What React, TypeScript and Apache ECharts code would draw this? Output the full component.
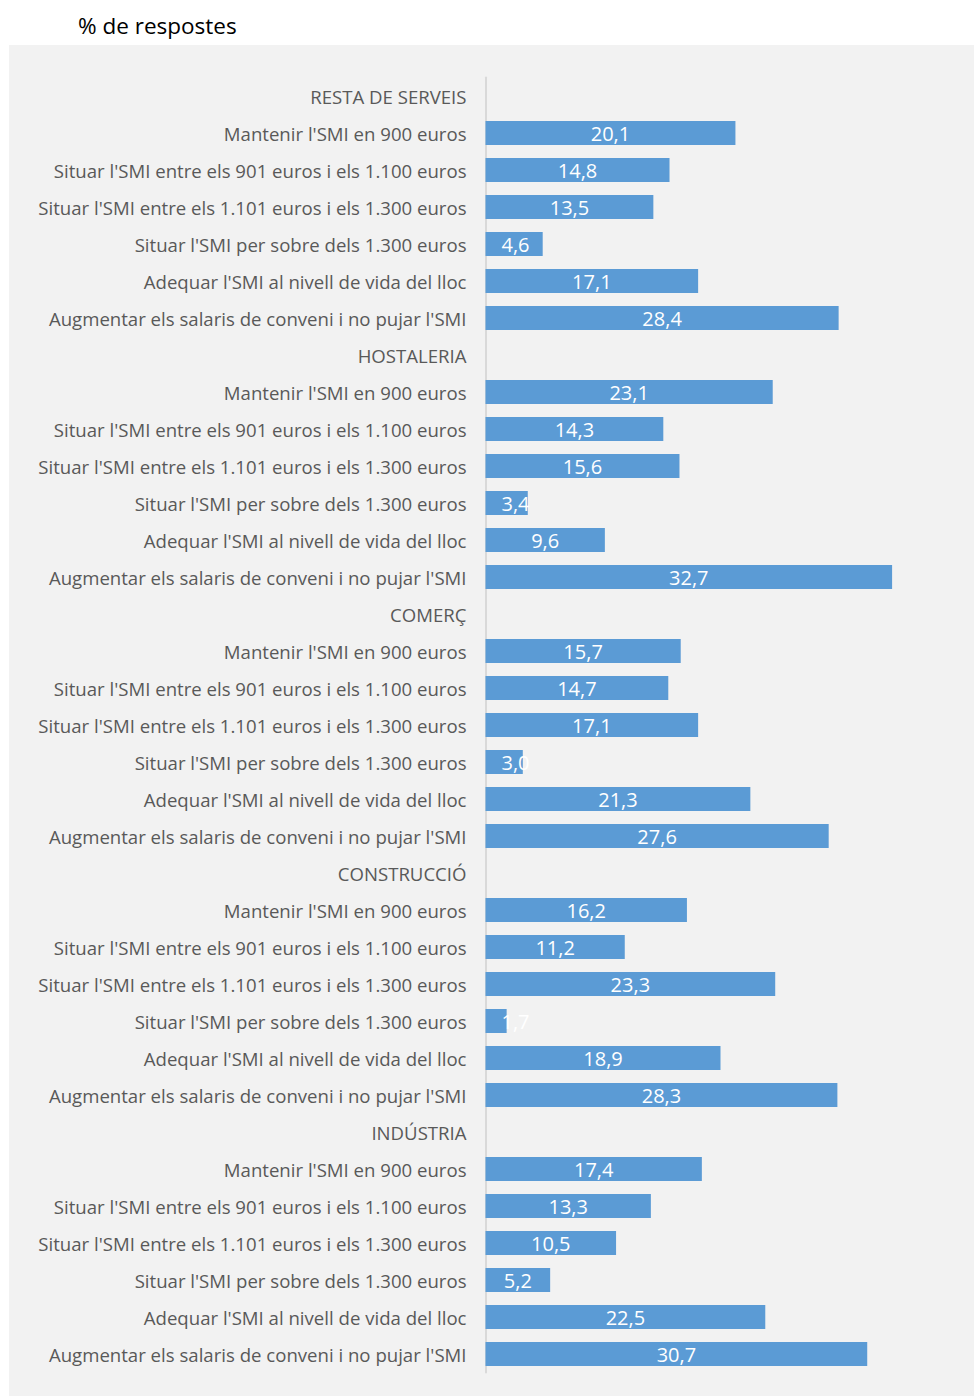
import React, { useEffect, useRef } from "react";
import * as echarts from "echarts";

const sectors = ["RESTA DE SERVEIS", "HOSTALERIA", "COMERÇ", "CONSTRUCCIÓ", "INDÚSTRIA"];
const options = [
  "Mantenir l'SMI en 900 euros",
  "Situar l'SMI entre els 901 euros i els 1.100 euros",
  "Situar l'SMI entre els 1.101 euros i els 1.300 euros",
  "Situar l'SMI per sobre dels 1.300 euros",
  "Adequar l'SMI al nivell de vida del lloc",
  "Augmentar els salaris de conveni i no pujar l'SMI",
];
const restaServeis = [20.1, 14.8, 13.5, 4.6, 17.1, 28.4];
const hostaleria = [23.1, 14.3, 15.6, 3.4, 9.6, 32.7];
const comerc = [15.7, 14.7, 17.1, 3.0, 21.3, 27.6];
const construccio = [16.2, 11.2, 23.3, 1.7, 18.9, 28.3];
const industria = [17.4, 13.3, 10.5, 5.2, 22.5, 30.7];
const sectorValues = [restaServeis, hostaleria, comerc, construccio, industria];
const title = "% de respostes";

export default function App() {
  const ref = useRef<HTMLDivElement>(null);
  useEffect(() => {
    if (!ref.current) return;
    const chart = echarts.init(ref.current, null, { renderer: "svg" });
    const cats: string[] = [];
    const data: any[] = [];
    const gridLeft = 485.5;
    const gridWidth = 974 - 16 - gridLeft;
    const xMax = 38;
    const pxPerUnit = gridWidth / xMax;
    sectors.forEach((s, i) => {
      cats.push(s);
      data.push({ value: null });
      options.forEach((o, j) => {
        cats.push(o);
        const v = sectorValues[i][j];
        const w = v * pxPerUnit;
        const item: any = { value: v };
        if (w / 2 < 30) {
          item.label = { position: [30, "50%"], align: "center", verticalAlign: "middle" };
        }
        data.push(item);
      });
    });
    const font = "'Open Sans', 'Noto Sans', sans-serif";
    chart.setOption({
      animation: false,
      graphic: [
        { type: "rect", shape: { x: 9, y: 45, width: 965, height: 1351 }, style: { fill: "#F2F2F2" }, z: -10, silent: true },
        {
          type: "text",
          x: 78,
          y: 25,
          style: { text: title, fill: "#000000", font: `22.5px ${font}`, textVerticalAlign: "middle", verticalAlign: "middle" },
        },
      ],
      grid: { left: gridLeft, width: gridWidth, top: 77.5, height: 1295, containLabel: false },
      xAxis: {
        type: "value",
        min: 0,
        max: xMax,
        show: false,
      },
      yAxis: {
        type: "category",
        data: cats,
        inverse: true,
        axisLine: { show: true, lineStyle: { color: "#D9D9D9", width: 2 } },
        axisTick: { show: false },
        axisLabel: { color: "#595959", fontSize: 18.6, fontFamily: font, margin: 19 },
      },
      series: [
        {
          type: "bar",
          data,
          barWidth: 24,
          itemStyle: { color: "#5B9BD5" },
          label: {
            show: true,
            position: "inside",
            color: "#FFFFFF",
            fontSize: 20,
            fontFamily: font,
            formatter: (p: any) => (p.value == null ? "" : Number(p.value).toFixed(1).replace(".", ",")),
          },
        },
      ],
    });
    return () => chart.dispose();
  }, []);
  return <div ref={ref} style={{ position: "absolute", left: 0, top: 0, width: 974, height: 1396 }} />;
}
